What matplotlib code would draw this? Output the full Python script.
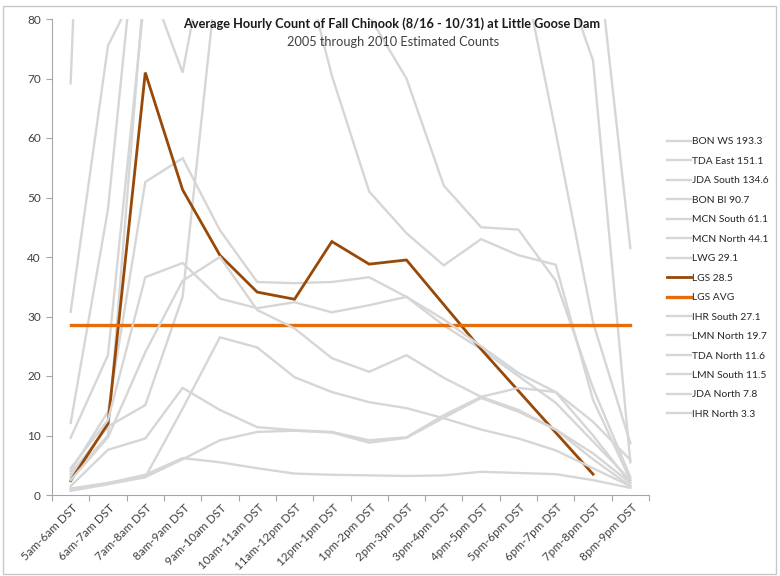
import numpy as np
import matplotlib
matplotlib.use('Agg')
import matplotlib.pyplot as plt
import matplotlib.transforms as mtransforms
from matplotlib.patches import Rectangle

plt.rcParams['font.family'] = ['Lato', 'DejaVu Sans']

# ── Data (average hourly counts) ─────────────────────────────────────────────
hours = ['5am-6am DST', '6am-7am DST', '7am-8am DST', '8am-9am DST',
         '9am-10am DST', '10am-11am DST', '11am-12pm DST', '12pm-1pm DST',
         '1pm-2pm DST', '2pm-3pm DST', '3pm-4pm DST', '4pm-5pm DST',
         '5pm-6pm DST', '6pm-7pm DST', '7pm-8pm DST', '8pm-9pm DST']

bon_ws     = [69.2, 230, 300, 290, 240, 230, 220, 210, 200, 190, 180, 170, 160, 150, 140, 120]
tda_east   = [30.8, 75.5, 88, 180, 220, 230, 220, 210, 200, 190, 180, 160, 150, 140, 98, 41.5]
jda_south  = [12.1, 48, 110, 170, 200, 210, 200, 195, 185, 175, 150, 130, 110, 91, 73, 5.5]
bon_bi     = [9.6, 23.5, 85, 130, 150, 145, 140, 130, 120, 115, 110, 100, 92, 61, 29, 8.7]
mcn_south  = [3.0, 10.0, 88, 71, 104, 115, 120, 110, 80.5, 70, 52, 45, 44.6, 36, 18, 3.0]
mcn_north  = [3.5, 11.5, 15.1, 33.3, 92, 100, 95, 70.5, 51.0, 44.0, 38.6, 43.0, 40.3, 38.7, 16.0, 2.5]
lwg        = [4.0, 14.0, 52.6, 56.6, 44.5, 35.8, 35.6, 35.8, 36.6, 33.3, 28.5, 24.5, 20.0, 15.5, 9.0, 2.5]
lgs        = [2.4, 12.0, 71.0, 51.3, 40.3, 34.1, 32.9, 42.6, 38.8, 39.5, 32.0, 24.5, 17.5, 10.5, 3.5, np.nan]
lgs_avg    = [28.5] * 16
ihr_south  = [4.5, 12.6, 36.6, 39.0, 33.0, 31.4, 32.4, 30.7, 31.9, 33.3, 29.5, 25.0, 20.5, 17.3, 10.0, 2.0]
lmn_north  = [2.5, 9.7, 24.0, 36.0, 40.0, 31.1, 28.0, 23.0, 20.7, 23.5, 19.7, 16.5, 14.3, 11.0, 6.0, 1.5]
tda_north  = [1.5, 7.6, 9.5, 18.0, 14.3, 11.4, 10.9, 10.6, 9.2, 9.7, 13.4, 16.5, 18.0, 17.3, 12.3, 5.9]
lmn_south  = [1.0, 2.0, 3.0, 14.5, 26.5, 24.8, 19.8, 17.3, 15.6, 14.6, 12.9, 11.0, 9.5, 7.5, 4.5, 1.5]
jda_north  = [0.7, 1.8, 3.0, 6.0, 9.2, 10.6, 10.8, 10.5, 8.8, 9.6, 13.0, 16.3, 14.0, 11.0, 7.0, 2.0]
ihr_north  = [1.1, 2.0, 3.4, 6.2, 5.5, 4.5, 3.6, 3.4, 3.3, 3.2, 3.3, 3.9, 3.7, 3.5, 2.5, 1.2]

labels = ['BON WS 193.3', 'TDA East 151.1', 'JDA South 134.6', 'BON BI 90.7',
          'MCN South 61.1', 'MCN North 44.1', 'LWG 29.1', 'LGS 28.5', 'LGS AVG',
          'IHR South 27.1', 'LMN North 19.7', 'TDA North 11.6', 'LMN South 11.5',
          'JDA North 7.8', 'IHR North 3.3']
values = [bon_ws, tda_east, jda_south, bon_bi, mcn_south, mcn_north, lwg, lgs,
          lgs_avg, ihr_south, lmn_north, tda_north, lmn_south, jda_north, ihr_north]

GRAY = '#d6d6d6'
style = {'LGS 28.5': dict(color='#984807', lw=2.0),
         'LGS AVG': dict(color='#e46c0a', lw=2.4)}

# ── Figure ────────────────────────────────────────────────────────────────────
fig = plt.figure(figsize=(7.8, 5.76), dpi=100)
fig.patches.append(Rectangle((0.004, 0.004), 0.991, 0.985, transform=fig.transFigure,
                             fill=False, edgecolor='#c8c8c8', lw=1.0))
ax = fig.add_axes([52 / 780, 1 - 495 / 576, (649 - 52) / 780, (495 - 19) / 576])

x = np.arange(len(hours))
for i, (lab, vals) in enumerate(zip(labels, values)):
    st = style.get(lab, dict(color=GRAY, lw=1.7))
    ax.plot(x, vals, label=lab, zorder=2 + i, solid_joinstyle='miter', **st)

ax.set_xlim(-0.5, len(hours) - 0.5)
ax.set_ylim(0, 80)
ax.set_yticks(np.arange(0, 81, 10))
ax.tick_params(axis='y', labelsize=8.5, labelcolor='#404040', color='#a6a6a6',
               length=4, width=0.8, pad=4)

# tick marks between categories, labels under each category
ax.set_xticks(np.arange(-0.5, len(hours), 1.0))
ax.set_xticklabels([])
ax.tick_params(axis='x', color='#a6a6a6', length=4, width=0.8)
ax.set_xticks(x, minor=True)
ax.set_xticklabels(hours, minor=True, rotation=45, ha='right', va='center',
                   rotation_mode='anchor', fontsize=8.4, color='#404040')
ax.tick_params(axis='x', which='minor', length=0, pad=8)
shift = mtransforms.ScaledTranslation(5 / 100, 0, fig.dpi_scale_trans)
for t in ax.get_xticklabels(minor=True):
    t.set_transform(t.get_transform() + shift)

for s in ['top', 'right']:
    ax.spines[s].set_visible(False)
for s in ['left', 'bottom']:
    ax.spines[s].set_color('#a6a6a6')
    ax.spines[s].set_linewidth(0.8)

fig.text(392 / 780, 1 - 24 / 576, 'Average Hourly Count of Fall Chinook (8/16 - 10/31) at Little Goose Dam',
         ha='center', va='center', fontsize=9.2, fontweight='bold', color='#1a1a1a')
fig.text(393 / 780, 1 - 42 / 576, '2005 through 2010 Estimated Counts',
         ha='center', va='center', fontsize=9.2, color='#404040')

handles, labs = ax.get_legend_handles_labels()
fig.legend(handles, labs, loc='upper left', bbox_to_anchor=(662 / 780, 1 - 132 / 576),
           frameon=False, fontsize=7.4, handlelength=2.3, handletextpad=0.1,
           labelspacing=1.0, borderpad=0, labelcolor='#262626')

fig.savefig('out.png', dpi=100)
